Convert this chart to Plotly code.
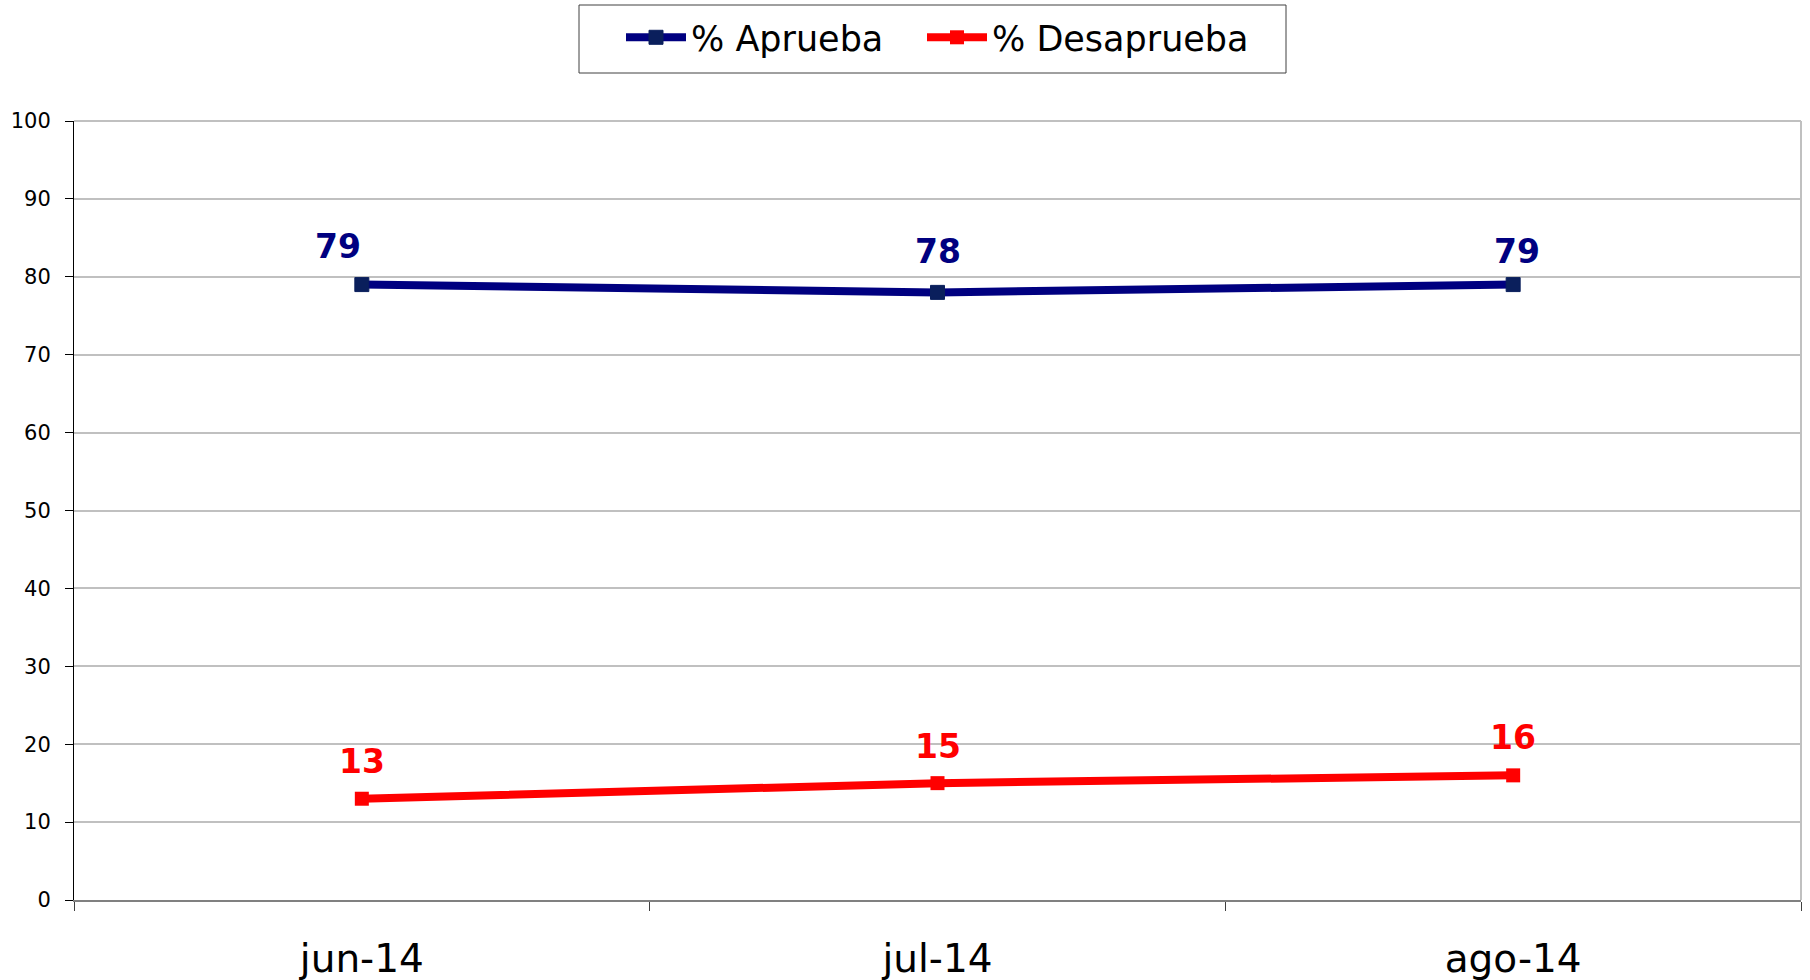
import plotly.graph_objects as go

categories = ["jun-14", "jul-14", "ago-14"]
aprueba = [79, 78, 79]
desaprueba = [13, 15, 16]
y_ticks = [0, 10, 20, 30, 40, 50, 60, 70, 80, 90, 100]

FONT = "DejaVu Sans"
NAVY = "#000080"
RED = "#FF0000"

fig = go.Figure()
fig.add_trace(go.Scatter(
    x=categories, y=aprueba, name="% Aprueba", mode="lines+markers", legend="legend",
    line=dict(color=NAVY, width=8),
    marker=dict(symbol="square", size=14, color="#0a1f5c", line=dict(color="#0a1f5c", width=1)),
))
fig.add_trace(go.Scatter(
    x=categories, y=desaprueba, name="% Desaprueba", mode="lines+markers", legend="legend2",
    line=dict(color=RED, width=8),
    marker=dict(symbol="square", size=14, color=RED),
))

ap_xshift = [-24, 0, 4]
ap_yshift = [38, 41, 33]
de_yshift = [37, 37, 38]
for i, c in enumerate(categories):
    fig.add_annotation(x=c, y=aprueba[i], text=f"<b>{aprueba[i]}</b>", showarrow=False,
                       xshift=ap_xshift[i], yshift=ap_yshift[i],
                       font=dict(family=FONT, size=33, color=NAVY))
    fig.add_annotation(x=c, y=desaprueba[i], text=f"<b>{desaprueba[i]}</b>", showarrow=False,
                       yshift=de_yshift[i],
                       font=dict(family=FONT, size=33, color=RED))

legend_style = dict(
    orientation="h", xanchor="left", y=1.145, yanchor="top",
    borderwidth=0, bgcolor="rgba(0,0,0,0)",
    font=dict(family=FONT, size=35, color="black"),
    itemwidth=60,
)

# plot area: x 74..1801, y 121..900
fig.update_layout(
    width=1810, height=980,
    margin=dict(l=74, r=9, t=121, b=80, autoexpand=False),
    paper_bgcolor="white", plot_bgcolor="white",
    font=dict(family=FONT, color="black"),
    showlegend=True,
    legend=dict(x=(621 - 74) / 1727, **legend_style),
    legend2=dict(x=(922 - 74) / 1727, **legend_style),
    xaxis=dict(
        type="category", range=[-0.5, 2.5], automargin=False,
        showgrid=False, showline=True, linecolor="#808080", linewidth=2,
        ticks="outside", tickson="boundaries", ticklen=9, tickcolor="#404040", tickwidth=1,
        tickfont=dict(family=FONT, size=39, color="black"),
        ticklabelstandoff=23,
    ),
    yaxis=dict(
        range=[0, 100], tickvals=y_ticks, automargin=False,
        showgrid=True, gridcolor="#c0c0c0", gridwidth=2,
        showline=True, linecolor="black", linewidth=1,
        ticks="outside", ticklen=8, tickcolor="black",
        tickfont=dict(family=FONT, size=21, color="black"),
        ticklabelstandoff=10,
        zeroline=False,
    ),
)
# plot-area frame (right and top, light gray)
fig.add_shape(type="line", xref="paper", yref="paper", x0=1, x1=1, y0=0, y1=1,
              line=dict(color="#c0c0c0", width=2), layer="below")
fig.add_shape(type="line", xref="paper", yref="paper", x0=0, x1=1, y0=1, y1=1,
              line=dict(color="#c0c0c0", width=2), layer="below")
# legend frame
fig.add_shape(type="rect", xref="paper", yref="paper",
              x0=(579 - 74) / 1727, x1=(1286 - 74) / 1727,
              y0=(900 - 73) / 779, y1=(900 - 5) / 779,
              line=dict(color="#404040", width=1), fillcolor="rgba(0,0,0,0)")

fig.write_html("out.html", config={"displayModeBar": False},
               post_script="document.body.style.margin='0';")
